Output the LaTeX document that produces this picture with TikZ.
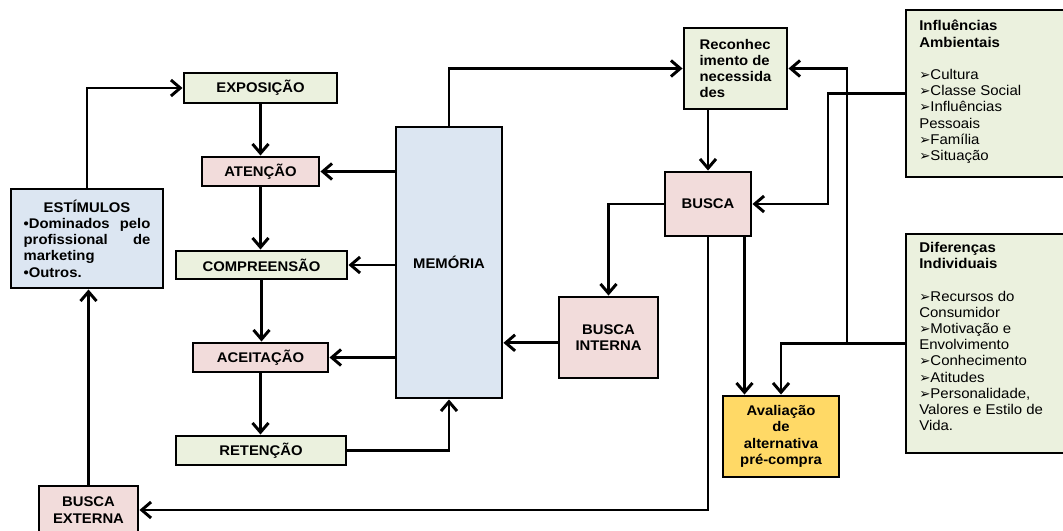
\documentclass[tikz,border=0pt]{standalone}
\usepackage{fontspec}
\setmainfont{Liberation Sans}[FakeStretch=1.06]
\newfontfamily\dingfont{DejaVu Sans}
\usetikzlibrary{arrows.meta,calc}

\definecolor{boxgreen}{HTML}{EBF1DE}
\definecolor{boxpink}{HTML}{F2DCDB}
\definecolor{boxblue}{HTML}{DCE6F2}
\definecolor{boxgold}{HTML}{FFD966}

% arrowhead bullet used in the two side lists
\newcommand{\tipbullet}{{\dingfont\fontsize{10}{10}\selectfont ➢}}

\begin{document}
\begin{tikzpicture}[x=0.75pt,y=-0.75pt,
  box/.style={draw=black, line width=2.2pt, inner sep=0pt},
  sz/.style 2 args={minimum width=#1*0.75pt, minimum height=#2*0.75pt},
  txt/.style={font=\bfseries\fontsize{10.5}{12.2}\selectfont, align=center},
  sidetxt/.style={font=\fontsize{10.6}{12.15}\selectfont, align=left, inner sep=0pt, anchor=north west},
  conn/.style={line width=2.2pt, -{Straight Barb[length=7pt,width=12pt]}}]
\useasboundingbox (0,0) rectangle (1063,531);
\clip (0,0) rectangle (1063,531);

% perception chain
\node[box, fill=boxgreen, sz={153}{30}, txt] (expo) at (260.5,88)    {EXPOSIÇÃO};
\node[box, fill=boxpink,  sz={117}{29}, txt] (aten) at (260.5,171.5) {ATENÇÃO};
\node[box, fill=boxgreen, sz={171}{28}, txt] (comp) at (261.5,265)   {COMPREENSÃO};
\node[box, fill=boxpink,  sz={135}{29}, txt] (acei) at (260.5,357.5) {ACEITAÇÃO};
\node[box, fill=boxgreen, sz={170}{29}, txt] (ret)  at (261,450.5)   {RETENÇÃO};

% stimuli and external search
\node[box, fill=boxblue, sz={152}{99}, txt, align=left, text width=95pt] (estim) at (87,238.5)
  {\hfill ESTÍMULOS\hfill\null\\
   •Dominados\hfill pelo\\
   profissional\hfill de\\
   marketing\\
   •Outros.};
\node[box, fill=boxpink, sz={99}{48}, txt] (bext) at (88.5,510) {BUSCA\\EXTERNA};

% memory
\node[box, fill=boxblue, sz={106}{271}, txt] (mem) at (449,262.5) {MEMÓRIA};

% decision side
\node[box, fill=boxgreen, sz={103}{81}, txt, align=left] (rec) at (735.5,68.5)
  {Reconhec\\imento de\\necessida\\des};
\node[box, fill=boxpink, sz={86}{64}, txt] (busca) at (708,204) {BUSCA};
\node[box, fill=boxpink, sz={99}{81}, txt] (bint) at (608.5,337.5) {BUSCA\\INTERNA};
\node[box, fill=boxgold, sz={116}{81}, txt] (aval) at (781,436.5)
  {Avaliação\\de\\alternativa\\pré-compra};

% influence boxes
\node[box, fill=boxgreen, sz={168}{167}] (infl) at (990,93.5) {};
\node[sidetxt] (infltxt) at (919,20)
  {\textbf{Influências}\\
   \textbf{Ambientais}\\
   \mbox{}\\
   \tipbullet Cultura\\
   \tipbullet Classe Social\\
   \tipbullet Influências\\
   Pessoais\\
   \tipbullet Família\\
   \tipbullet Situação};
\node[box, fill=boxgreen, sz={168}{219}] (dif) at (990,343.5) {};
\node[sidetxt] (diftxt) at (919,242)
  {\textbf{Diferenças}\\
   \textbf{Individuais}\\
   \mbox{}\\
   \tipbullet Recursos do\\
   Consumidor\\
   \tipbullet Motivação e\\
   Envolvimento\\
   \tipbullet Conhecimento\\
   \tipbullet Atitudes\\
   \tipbullet Personalidade,\\
   Valores e Estilo de\\
   Vida.};

% bend points of the influence connectors
\coordinate (j1) at (828,94);
\coordinate (j2) at (847,343);

% connectors
\draw[conn] (estim.north) |- (expo.west);
\draw[conn] (bext.north) -- (bext.north |- estim.south);
\draw[conn] (expo.south) -- (expo.south |- aten.north);
\draw[conn] (aten.south) -- (aten.south |- comp.north);
\draw[conn] (comp.south) -- (comp.south |- acei.north);
\draw[conn] (acei.south) -- (acei.south |- ret.north);
\draw[conn] (mem.west |- aten.east) -- (aten.east);
\draw[conn] (mem.west |- comp.east) -- (comp.east);
\draw[conn] (mem.west |- acei.east) -- (acei.east);
\draw[conn] (ret.east) -| (mem.south);
\draw[conn] (mem.north) |- (rec.west);
\draw[conn] (rec.south -| busca.north) -- (busca.north);
\draw[conn] (busca.west) -| (bint.north);
\draw[conn] ([yshift=-4pt]bint.west) -- ([yshift=-4pt]bint.west -| mem.east);
\draw[conn] (busca.south) |- (bext.east);
\draw[conn] ([xshift=-6pt]busca.south east) -- ([xshift=-6pt]busca.south east |- aval.north);
\draw[conn] (infl.west) -- (infl.west -| j1) |- (busca.east);
\draw[conn] (dif.west) -| (aval.north);
\draw[conn] (dif.west -| j2) |- (rec.east);
\end{tikzpicture}
\end{document}
